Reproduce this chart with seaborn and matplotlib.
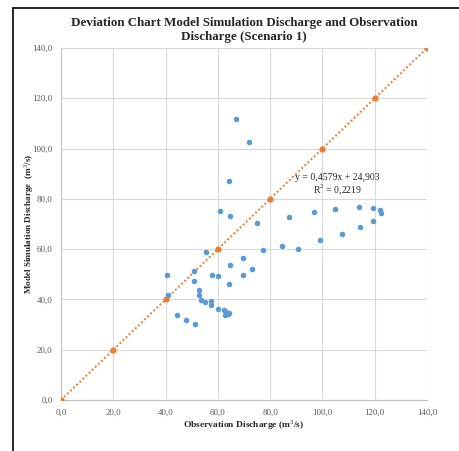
import matplotlib
matplotlib.use("Agg")
import matplotlib.pyplot as plt
import seaborn as sns
import pandas as pd
from matplotlib.ticker import FuncFormatter, MultipleLocator
from matplotlib.lines import Line2D

obs = [67.0, 72.0, 64.2, 60.8, 64.5, 74.9, 87.2, 96.9, 104.9, 113.9, 119.5, 122.2,
       122.4, 119.4, 114.5, 107.3, 99.2, 90.5, 84.6, 77.3, 55.4, 69.8, 64.5, 73.1,
       50.9, 40.5, 57.7, 60.2, 69.6, 50.9, 64.3, 52.7, 52.7, 41.1, 53.7, 55.2, 57.3,
       57.5, 60.2, 62.2, 63.0, 63.8, 64.3, 62.8, 44.2, 47.7, 51.1]
sim = [111.8, 102.7, 87.0, 75.1, 73.1, 70.2, 72.8, 74.6, 75.8, 76.6, 76.4, 75.6,
       74.2, 71.3, 68.9, 66.0, 63.7, 60.0, 61.2, 59.5, 58.9, 56.3, 53.6, 52.1,
       51.5, 49.8, 49.6, 49.5, 49.8, 47.4, 46.2, 43.6, 41.7, 41.7, 39.6, 38.8, 39.2,
       37.7, 36.3, 35.8, 35.0, 34.3, 34.6, 33.8, 34.0, 31.7, 30.2]
ideal_x = [0, 20, 40, 60, 80, 100, 120, 140]
ideal_y = [0, 20, 40, 60, 80, 100, 120, 140]
title = "Deviation Chart Model Simulation Discharge and Observation\nDischarge (Scenario 1)"
xlabel = "Observation Discharge (m$^3$/s)"
ylabel = "Model Simulation Discharge  (m$^3$/s)"
eq_text = "y = 0,4579x + 24,903\nR$^2$ = 0,2219"

sns.set_theme(style="white")
plt.rcParams['font.family'] = ['Liberation Serif', 'DejaVu Serif']
plt.rcParams['mathtext.fontset'] = 'custom'
plt.rcParams['mathtext.rm'] = 'Liberation Serif'
plt.rcParams['mathtext.bf'] = 'Liberation Serif:bold'

fig = plt.figure(figsize=(4.59, 4.51), dpi=100)
ax = fig.add_axes([61/459, 1-400/451, (427-61)/459, (400-48)/451])

df = pd.DataFrame({"obs": obs, "sim": sim})
line_df = pd.DataFrame({"x": ideal_x, "y": ideal_y})

sns.lineplot(data=line_df, x="x", y="y", ax=ax, color="#ED7D31", linestyle=(0, (1, 1.2)),
             linewidth=1.4, marker="o", markersize=4.5, markeredgewidth=0, zorder=3)
sns.scatterplot(data=df, x="obs", y="sim", ax=ax, color="#5B9BD5", s=16, linewidth=0, zorder=4)

ax.set_xlim(0, 140)
ax.set_ylim(0, 140)
ax.xaxis.set_major_locator(MultipleLocator(20))
ax.yaxis.set_major_locator(MultipleLocator(20))
fmt = FuncFormatter(lambda v, p: f"{v:.1f}".replace(".", ","))
ax.xaxis.set_major_formatter(fmt)
ax.yaxis.set_major_formatter(fmt)
ax.grid(True, color="#D9D9D9", linewidth=0.8)
ax.set_axisbelow(True)
for side in ["top", "right"]:
    ax.spines[side].set_visible(False)
ax.spines["left"].set_color("#BFBFBF")
ax.spines["bottom"].set_color("#BFBFBF")
ax.spines["left"].set_linewidth(0.8)
ax.spines["bottom"].set_linewidth(0.8)
ax.tick_params(axis="both", labelsize=6.5, labelcolor="#595959", length=0, pad=6)

ax.set_xlabel(xlabel, fontsize=6.8, fontweight="bold", labelpad=1.5)
ax.set_ylabel(ylabel, fontsize=6.6, fontweight="bold")
ax.yaxis.set_label_coords(-0.068, 0.5)
ax.set_title(title, fontsize=9.4, fontweight="bold", pad=6)

ax.text(105.7, 85.5, eq_text, ha="center", va="center", fontsize=7, linespacing=1.1)

fig.add_artist(Line2D([13/459, 13/459], [0, 1-8/451], color="black", linewidth=1.2,
                      transform=fig.transFigure))
fig.add_artist(Line2D([13/459, 1], [1-8/451, 1-8/451], color="black", linewidth=1.2,
                      transform=fig.transFigure))

fig.savefig("out.png", dpi=100)
